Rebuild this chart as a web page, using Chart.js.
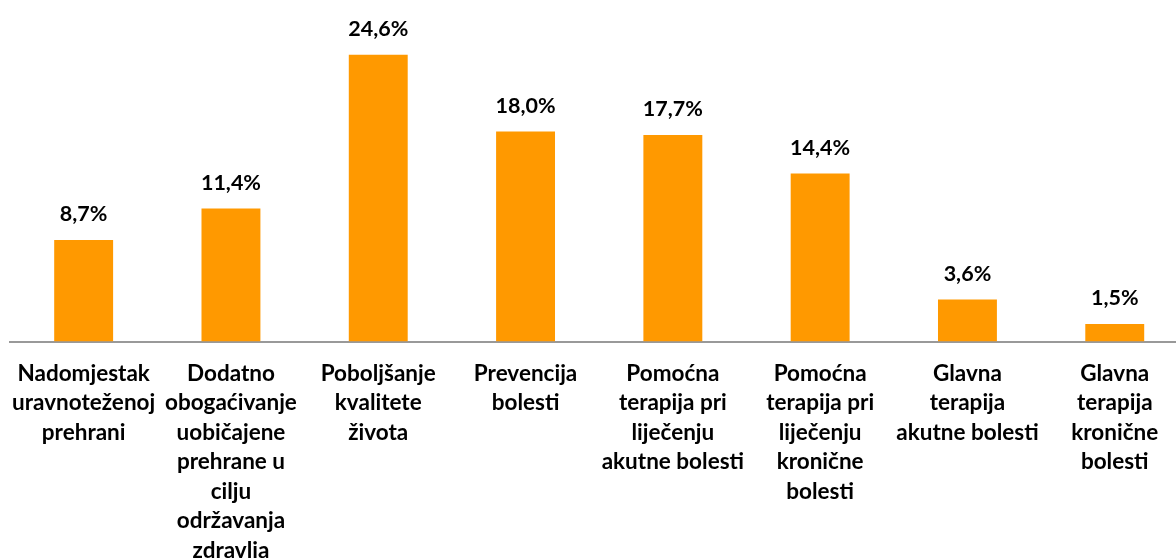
<!DOCTYPE html>
<html>
<head>
<meta charset="utf-8">
<script src="https://cdn.jsdelivr.net/npm/chart.js@4/dist/chart.umd.min.js"></script>
<style>
html,body{margin:0;padding:0;background:#fff;overflow:hidden;width:1176px;height:558px;}
canvas{display:block;}
</style>
</head>
<body>
<canvas id="c" width="1190" height="558"></canvas>
<script>
const categories = [
  ["Nadomjestak", "uravnoteženoj", "prehrani"],
  ["Dodatno", "obogaćivanje", "uobičajene", "prehrane u", "cilju", "održavanja", "zdravlja"],
  ["Poboljšanje", "kvalitete", "života"],
  ["Prevencija", "bolesti"],
  ["Pomoćna", "terapija pri", "liječenju", "akutne bolesti"],
  ["Pomoćna", "terapija pri", "liječenju", "kronične", "bolesti"],
  ["Glavna", "terapija", "akutne bolesti"],
  ["Glavna", "terapija", "kronične", "bolesti"]
];
const values = [8.7, 11.4, 24.6, 18.0, 17.7, 14.4, 3.6, 1.5];
const valueLabels = ["8,7%", "11,4%", "24,6%", "18,0%", "17,7%", "14,4%", "3,6%", "1,5%"];

const FONT = "Lato";
const valueLabelPlugin = {
  id: 'valueLabels',
  afterDatasetsDraw(chart) {
    const ctx = chart.ctx;
    const meta = chart.getDatasetMeta(0);
    ctx.save();
    ctx.font = "bold 21.5px " + FONT;
    ctx.fillStyle = "#000";
    ctx.textAlign = "center";
    ctx.textBaseline = "alphabetic";
    meta.data.forEach((bar, i) => {
      ctx.fillText(valueLabels[i], bar.x, bar.y - 19);
    });
    ctx.restore();
  }
};

new Chart(document.getElementById('c'), {
  type: 'bar',
  data: {
    labels: categories,
    datasets: [{
      data: values,
      backgroundColor: '#FF9900',
      borderWidth: 0,
      barPercentage: 0.4,
      categoryPercentage: 1.0
    }]
  },
  options: {
    responsive: false,
    animation: false,
    layout: { padding: { top: 15, left: 10, right: 1.6, bottom: 0 } },
    plugins: { legend: { display: false }, tooltip: { enabled: false } },
    scales: {
      x: {
        grid: { display: false, drawTicks: false },
        border: { display: true, color: '#999999', width: 2 },
        ticks: {
          color: '#000',
          font: { family: FONT, size: 22.5, weight: 'bold', lineHeight: '29.5px' },
          padding: 17,
          maxRotation: 0,
          autoSkip: false
        },
        afterFit(scale) {
          scale.height = 216.5;
          scale.paddingLeft = 0;
          scale.paddingRight = 0;
        }
      },
      y: {
        display: false,
        min: 0,
        max: 28
      }
    }
  },
  plugins: [valueLabelPlugin]
});
</script>
</body>
</html>
